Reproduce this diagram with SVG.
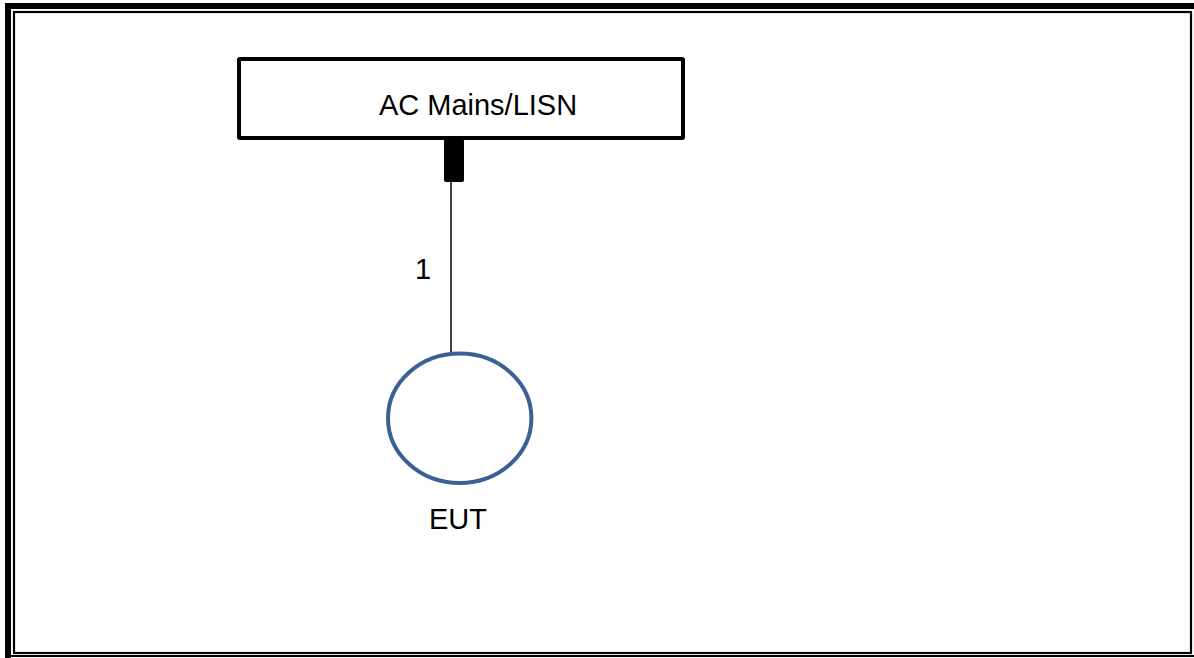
<svg xmlns="http://www.w3.org/2000/svg" width="1194" height="658" viewBox="0 0 1194 658">
<style>
text{font-family:"Liberation Sans",Arial,sans-serif;fill:#000}
.lbl{font-size:29px}
</style>
<rect width="1194" height="658" fill="#fff"/>
<g id="frame" fill="none" stroke="#000">
<path d="M8 658 V6 H1194" stroke-width="6"/>
<line x1="5" y1="656" x2="1194" y2="656" stroke-width="2.2"/>
<rect x="14" y="12" width="1177" height="641" stroke-width="2.2"/>
</g>
<g id="ac-mains">
<rect x="239" y="59" width="444" height="79" fill="#fff" stroke="#000" stroke-width="4" rx="1"/>
<text class="lbl" x="478" y="115" text-anchor="middle">AC Mains/LISN</text>
</g>
<g id="connectors">
<rect x="444" y="139" width="20" height="43" rx="2" fill="#000"/>
<line x1="451" y1="182" x2="451" y2="353" stroke="#000" stroke-width="1.5"/>
<text class="lbl" x="423" y="279" text-anchor="middle">1</text>
</g>
<g id="eut">
<ellipse cx="459.7" cy="418.3" rx="71.7" ry="64.7" fill="#fff" stroke="#3b6192" stroke-width="4"/>
<text class="lbl" x="458" y="529" text-anchor="middle">EUT</text>
</g>
</svg>
